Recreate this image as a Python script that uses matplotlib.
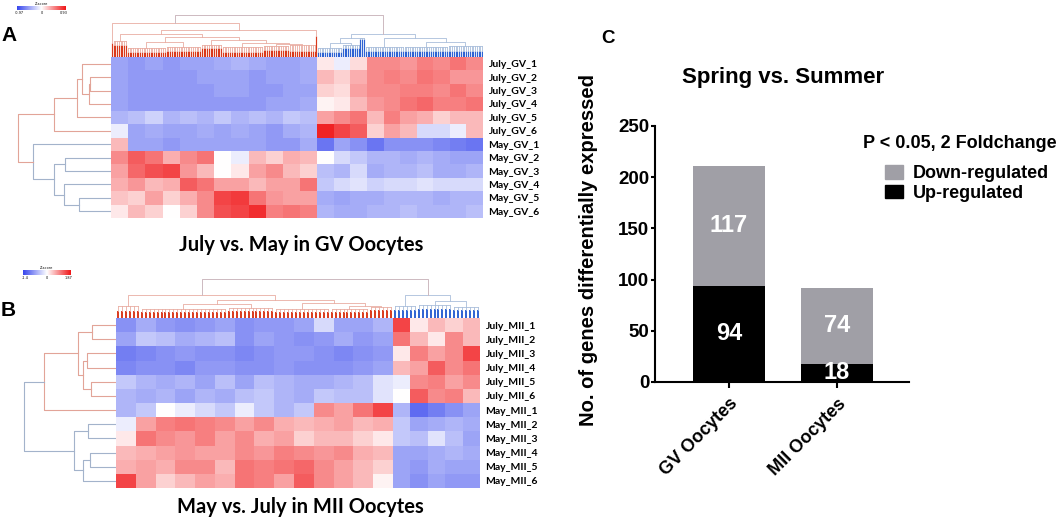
import numpy as np
import matplotlib
matplotlib.use("Agg")
import matplotlib.pyplot as plt
from matplotlib.colors import LinearSegmentedColormap
from matplotlib.patches import Patch

# ---------------- data ----------------
gv_rows = ["July_GV_1", "July_GV_2", "July_GV_3", "July_GV_4", "July_GV_5", "July_GV_6",
           "May_GV_1", "May_GV_2", "May_GV_3", "May_GV_4", "May_GV_5", "May_GV_6"]
mii_rows = ["July_MII_1", "July_MII_2", "July_MII_3", "July_MII_4", "July_MII_5", "July_MII_6",
            "May_MII_1", "May_MII_2", "May_MII_3", "May_MII_4", "May_MII_5", "May_MII_6"]

# gene counts per column cluster (red cluster, blue cluster)
gv_cluster_sizes = [117, 94]
mii_cluster_sizes = [70, 22]
# number of colour blocks per cluster
gv_blocks = [12, 10]
mii_blocks = [14, 5]

# approximate z-scores (block averages)
gv_heat = [
 [-0.50,-0.55,-0.50,-0.55,-0.50,-0.50,-0.45,-0.40,-0.45,-0.50,-0.50,-0.45,  0.10,-0.10, 0.15, 0.50, 0.50, 0.45, 0.55, 0.50, 0.60, 0.50],
 [-0.50,-0.55,-0.55,-0.55,-0.55,-0.50,-0.50,-0.50,-0.55,-0.50,-0.50,-0.45,  0.30, 0.20, 0.35, 0.50, 0.55, 0.50, 0.60, 0.55, 0.45, 0.45],
 [-0.50,-0.55,-0.55,-0.55,-0.55,-0.55,-0.50,-0.50,-0.55,-0.55,-0.50,-0.50,  0.20, 0.15, 0.40, 0.50, 0.50, 0.55, 0.55, 0.50, 0.60, 0.50],
 [-0.50,-0.55,-0.55,-0.55,-0.55,-0.55,-0.55,-0.55,-0.55,-0.50,-0.50,-0.45,  0.05, 0.10, 0.30, 0.45, 0.50, 0.60, 0.65, 0.55, 0.55, 0.60],
 [-0.40,-0.35,-0.25,-0.40,-0.35,-0.40,-0.30,-0.40,-0.35,-0.40,-0.30,-0.35,  0.40, 0.50, 0.60, 0.30, 0.55, 0.40, 0.35, 0.20, 0.30, 0.30],
 [-0.10,-0.50,-0.45,-0.50,-0.50,-0.45,-0.50,-0.45,-0.50,-0.55,-0.45,-0.40,  0.95, 0.80, 0.70, 0.20, 0.40, 0.30,-0.20,-0.20,-0.10, 0.30],
 [ 0.30,-0.50,-0.50,-0.55,-0.50,-0.50,-0.50,-0.50,-0.50,-0.55,-0.55,-0.45, -0.75,-0.50,-0.60,-0.75,-0.60,-0.60,-0.60,-0.65,-0.70,-0.75],
 [ 0.50, 0.70, 0.60, 0.35, 0.50, 0.60, 0.00,-0.10, 0.30, 0.20, 0.35, 0.30,  0.00,-0.20,-0.30,-0.40,-0.40,-0.45,-0.40,-0.45,-0.50,-0.50],
 [ 0.40, 0.65, 0.75, 0.80, 0.45, 0.30, 0.00, 0.10, 0.40, 0.50, 0.30, 0.20, -0.35,-0.40,-0.20,-0.45,-0.40,-0.40,-0.35,-0.45,-0.45,-0.40],
 [ 0.35, 0.45, 0.30, 0.35, 0.70, 0.60, 0.40, 0.40, 0.30, 0.40, 0.40, 0.60, -0.30,-0.20,-0.15,-0.25,-0.20,-0.20,-0.15,-0.20,-0.20,-0.20],
 [ 0.25, 0.20, 0.40, 0.20, 0.35, 0.50, 0.80, 0.85, 0.60, 0.45, 0.40, 0.40, -0.45,-0.50,-0.45,-0.45,-0.40,-0.40,-0.40,-0.45,-0.40,-0.40],
 [ 0.10, 0.30, 0.20, 0.00, 0.20, 0.50, 0.75, 0.80, 0.90, 0.55, 0.60, 0.55, -0.40,-0.45,-0.45,-0.40,-0.40,-0.35,-0.40,-0.40,-0.40,-0.35],
]

mii_heat = [
 [-0.60,-0.45,-0.55,-0.60,-0.55,-0.50,-0.60,-0.55,-0.55,-0.50,-0.20,-0.50,-0.50,-0.40,  0.80, 0.10, 0.30, 0.20, 0.30],
 [-0.50,-0.30,-0.35,-0.45,-0.40,-0.35,-0.60,-0.50,-0.55,-0.60,-0.55,-0.45,-0.55,-0.50,  0.60, 0.30, 0.10, 0.50, 0.30],
 [-0.70,-0.65,-0.60,-0.55,-0.60,-0.60,-0.65,-0.60,-0.55,-0.55,-0.60,-0.65,-0.60,-0.55,  0.10, 0.55, 0.40, 0.50, 0.80],
 [-0.65,-0.60,-0.60,-0.65,-0.55,-0.55,-0.60,-0.60,-0.55,-0.60,-0.60,-0.60,-0.55,-0.50,  0.30, 0.40, 0.70, 0.50, 0.60],
 [-0.30,-0.40,-0.45,-0.40,-0.50,-0.35,-0.50,-0.35,-0.40,-0.45,-0.45,-0.40,-0.35,-0.15, -0.10, 0.50, 0.55, 0.40, 0.50],
 [-0.40,-0.45,-0.40,-0.50,-0.40,-0.45,-0.35,-0.30,-0.40,-0.45,-0.30,-0.35,-0.35,-0.15,  0.00, 0.70, 0.50, 0.55, 0.30],
 [-0.40,-0.30, 0.00,-0.10,-0.20,-0.30,-0.10,-0.30,-0.40,-0.30, 0.50, 0.40, 0.60, 0.80, -0.40,-0.80,-0.70,-0.60,-0.50],
 [-0.10, 0.40, 0.55, 0.60, 0.55, 0.50, 0.40, 0.50, 0.35, 0.30, 0.35, 0.40, 0.30, 0.35, -0.30,-0.50,-0.45,-0.40,-0.45],
 [ 0.10, 0.60, 0.50, 0.45, 0.55, 0.40, 0.50, 0.35, 0.40, 0.20, 0.30, 0.30, 0.20, 0.10, -0.30,-0.35,-0.15,-0.35,-0.50],
 [ 0.30, 0.35, 0.40, 0.45, 0.40, 0.40, 0.50, 0.45, 0.55, 0.50, 0.45, 0.50, 0.35, 0.30, -0.50,-0.50,-0.45,-0.40,-0.45],
 [ 0.35, 0.40, 0.35, 0.50, 0.50, 0.30, 0.60, 0.55, 0.60, 0.65, 0.50, 0.40, 0.30, 0.20, -0.50,-0.55,-0.45,-0.50,-0.50],
 [ 0.80, 0.40, 0.20, 0.30, 0.40, 0.35, 0.60, 0.55, 0.40, 0.70, 0.50, 0.40, 0.30, 0.05, -0.50,-0.60,-0.50,-0.55,-0.55],
]

# column dendrograms: ('g', n_leaves, stem_height, join_height) or (height, left, right)
gv_col_tree = (42,
    (34, ('g', 1, 14, 14),
         (27, (23, ('g', 8, 12, 16),
                   (20, (15, ('g', 22, 5, 9), ('g', 20, 6, 10)),
                        (17, ('g', 12, 9, 12),
                             (14, ('g', 23, 5, 10),
                                  (13, ('g', 15, 7, 11), ('g', 15, 6, 12)))))),
              ('g', 1, 21, 21))),
    (23, (19.5, (14, ('g', 14, 5, 9), ('g', 10, 9, 12)), ('g', 3, 18, 19)),
         (19, ('g', 22, 6, 10), (15, ('g', 25, 6, 10), ('g', 20, 6, 11)))))

mii_col_tree = (39.5,
    (23.5, ('g', 6, 7, 12),
           (18.5, (14, ('g', 22, 6, 9), ('g', 12, 7, 10)),
                  (15, ('g', 14, 6, 9), (12, ('g', 10, 6, 9), ('g', 6, 8, 11))))),
    (23, ('g', 6, 8, 12), (17, ('g', 9, 9, 13), ('g', 7, 8, 11))))

# row dendrograms: leaf = row index, node = (height, left, right)
gv_row_tree = (93.3,
    (56.7, (34, (29, 0, (22, (21, 1, 2), 3)), 4), 5),
    (77.7, 6, (56.7, (45.7, 7, 8), (47.3, 9, (32.3, 10, 11)))))
mii_row_tree = (91.7,
    (72.3, (38.3, (24, 0, 1), (33.3, (29, 2, 3), (25, 4, 5))), 6),
    (42.3, (27.7, 7, 8), (33.3, (25.7, 9, 10), 11)))

# bar chart
cell_types = ["GV Oocytes", "MII Oocytes"]
up_regulated = [94, 18]
down_regulated = [117, 74]

# ---------------- styling ----------------
W, H = 1059, 519
fig = plt.figure(figsize=(W / 100, H / 100), dpi=100)


def px(x0, y0, x1, y1):
    return [x0 / W, 1 - y1 / H, (x1 - x0) / W, (y1 - y0) / H]


zcmap = LinearSegmentedColormap.from_list(
    "z", [(0.0, (0.22, 0.28, 0.93)), (0.5, (1, 1, 1)), (1.0, (0.94, 0.09, 0.10))])

RED_THICK, RED_THIN = "#d9391c", "#e9ada2"
BLUE_THICK, BLUE_THIN = "#2e62d2", "#a9bedb"
ROOT_THIN = "#cdb9c0"
ROW_RED, ROW_BLUE = "#e2a498", "#a3b3cb"
HM_FONT = "Lato"


def draw_col(ax, node, start, thick, thin, lw_thick):
    if node[0] == 'g':
        _, n, stem, join = node
        pos = start + 0.5 + np.arange(n)
        for p in pos:
            ax.plot([p, p], [0, stem], color=thick, lw=lw_thick, solid_capstyle='butt')
        if n > 1:
            for p in pos:
                ax.plot([p, p], [stem, join], color=thin, lw=0.6)
            ax.plot([pos[0], pos[-1]], [join, join], color=thin, lw=0.6)
            return pos.mean(), join, start + n
        return pos[0], stem, start + n
    h, left, right = node
    cl, hl, s = draw_col(ax, left, start, thick, thin, lw_thick)
    cr, hr, s = draw_col(ax, right, s, thick, thin, lw_thick)
    ax.plot([cl, cl, cr, cr], [hl, h, h, hr], color=thin, lw=0.6)
    return (cl + cr) / 2, h, s


def draw_col_root(ax, tree, lw_thick):
    h, left, right = tree
    cl, hl, s = draw_col(ax, left, 0, RED_THICK, RED_THIN, lw_thick)
    cr, hr, s = draw_col(ax, right, s, BLUE_THICK, BLUE_THIN, lw_thick)
    ax.plot([cl, cl, cr, cr], [hl, h, h, hr], color=ROOT_THIN, lw=0.7)
    ax.set_xlim(0, s)
    ax.set_ylim(0, 45)
    ax.axis("off")


def draw_row(ax, node, color):
    if isinstance(node, int):
        return node + 0.5, 0
    h, left, right = node
    pl, hl = draw_row(ax, left, color)
    pr, hr = draw_row(ax, right, color)
    ax.plot([hl, h, h, hr], [pl, pl, pr, pr], color=color, lw=0.8)
    return (pl + pr) / 2, h


def draw_row_root(ax, tree, root_color):
    h, top, bot = tree
    pt, ht = draw_row(ax, top, ROW_RED)
    pb, hb = draw_row(ax, bot, ROW_BLUE)
    ax.plot([ht, h, h, hb], [pt, pt, pb, pb], color=root_color, lw=0.8)
    ax.set_xlim(96, 0)
    ax.set_ylim(12, 0)
    ax.axis("off")


def draw_heat(ax, data, sizes, blocks, labels):
    edges = [0.0]
    start = 0
    for size, nb in zip(sizes, blocks):
        edges.extend(list(np.linspace(start, start + size, nb + 1)[1:]))
        start += size
    ax.pcolormesh(np.array(edges), np.arange(13), np.array(data), cmap=zcmap,
                  vmin=-1, vmax=1, shading="flat")
    ax.set_xlim(0, start)
    ax.set_ylim(12, 0)
    ax.set_xticks([])
    ax.yaxis.tick_right()
    ax.set_yticks(np.arange(12) + 0.5)
    ax.set_yticklabels(labels, fontsize=7.5, fontweight="bold", family=HM_FONT)
    ax.tick_params(axis="y", length=0, pad=4)
    for sp in ax.spines.values():
        sp.set_visible(False)


def draw_cbar(rect, lo, hi):
    cax = fig.add_axes(rect)
    cax.imshow(np.linspace(-1, 1, 100)[None, :], cmap=zcmap, aspect="auto",
               extent=(0, 1, 0, 1))
    cax.set_yticks([])
    cax.set_xticks([0.05, 0.5, 0.95])
    cax.set_xticklabels([lo, "0", hi], fontsize=2.5)
    cax.tick_params(axis="x", length=0, pad=0.5)
    cax.set_title("Z-score", fontsize=2.5, pad=0.6)
    for sp in cax.spines.values():
        sp.set_visible(False)


# ---------------- panel A ----------------
axA_h = fig.add_axes(px(111, 57, 483, 218))
draw_heat(axA_h, gv_heat, gv_cluster_sizes, gv_blocks, gv_rows)
axA_c = fig.add_axes(px(111, 12, 483, 57))
draw_col_root(axA_c, gv_col_tree, 0.85)
axA_r = fig.add_axes(px(15, 57, 111, 218))
draw_row_root(axA_r, gv_row_tree, ROW_RED)
draw_cbar(px(17, 6, 66, 10), "-0.97", "0.93")
fig.text(301 / W, 1 - 245 / H, "July vs. May in GV Oocytes", ha="center", va="center",
         fontsize=14.5, fontweight="bold", family=HM_FONT)
fig.text(9.5 / W, 1 - 35.5 / H, "A", ha="center", va="center", fontsize=15,
         fontweight="bold", family="Liberation Sans")

# ---------------- panel B ----------------
axB_h = fig.add_axes(px(116, 318, 480, 488))
draw_heat(axB_h, mii_heat, mii_cluster_sizes, mii_blocks, mii_rows)
axB_c = fig.add_axes(px(116, 273, 480, 318))
draw_col_root(axB_c, mii_col_tree, 1.4)
axB_r = fig.add_axes(px(20, 318, 116, 488))
draw_row_root(axB_r, mii_row_tree, ROW_BLUE)
draw_cbar(px(23, 270, 71, 275), "-1.4", "1.87")
fig.text(300 / W, 1 - 507 / H, "May vs. July in MII Oocytes", ha="center", va="center",
         fontsize=14.5, fontweight="bold", family=HM_FONT)
fig.text(8.5 / W, 1 - 310.5 / H, "B", ha="center", va="center", fontsize=15,
         fontweight="bold", family="Liberation Sans")

# ---------------- panel C ----------------
CF = "Liberation Sans"
GREY = "#a09fa6"
axC = fig.add_axes(px(655, 126, 909, 382))
x = np.arange(len(cell_types))
bw = 72 / 108
b_up = axC.bar(x, up_regulated, width=bw, color="black", label="Up-regulated")
b_dn = axC.bar(x, down_regulated, width=bw, bottom=up_regulated, color=GREY,
               label="Down-regulated")
for bars in (b_up, b_dn):
    axC.bar_label(bars, label_type="center", color="white", fontsize=17,
                  fontweight="bold", family=CF)
axC.set_xlim(-74 / 108, 1 + 72 / 108)
axC.set_ylim(0, 250)
axC.set_yticks([0, 50, 100, 150, 200, 250])
axC.set_xticks(x)
axC.set_xticklabels(cell_types, rotation=45, ha="right", va="top",
                    rotation_mode="anchor")
for lab in axC.get_yticklabels():
    lab.set_fontsize(13.5)
    lab.set_fontweight("bold")
    lab.set_family(CF)
for lab in axC.get_xticklabels():
    lab.set_fontsize(13)
    lab.set_fontweight("bold")
    lab.set_family(CF)
axC.tick_params(axis="y", width=1.5, length=3, pad=1)
axC.tick_params(axis="x", width=1.5, length=4.5, pad=5)
for side in ("top", "right"):
    axC.spines[side].set_visible(False)
for side in ("left", "bottom"):
    axC.spines[side].set_linewidth(1.5)
axC.set_ylabel("No. of genes differentially expressed", fontsize=14.5,
               fontweight="bold", family=CF)
axC.yaxis.set_label_coords(-0.224, 0.516)
fig.text(783 / W, 1 - 78 / H, "Spring vs. Summer", ha="center", va="center",
         fontsize=16, fontweight="bold", family=CF)
fig.text(608 / W, 1 - 38.5 / H, "C", ha="center", va="center", fontsize=13.5,
         fontweight="bold", family=CF)
fig.text(863 / W, 1 - 143 / H, "P < 0.05, 2 Foldchange", ha="left", va="center",
         fontsize=13, fontweight="bold", family=CF)
axC.legend(handles=[Patch(color=GREY, label="Down-regulated"),
                    Patch(color="black", label="Up-regulated")],
           loc="upper left", bbox_to_anchor=(885 / W, 1 - 165 / H),
           bbox_transform=fig.transFigure, frameon=False, borderpad=0,
           borderaxespad=0, handlelength=1.0, handleheight=0.78,
           handletextpad=0.55, labelspacing=0.15,
           prop={"family": CF, "weight": "bold", "size": 13})

fig.savefig("out.png", dpi=100)
